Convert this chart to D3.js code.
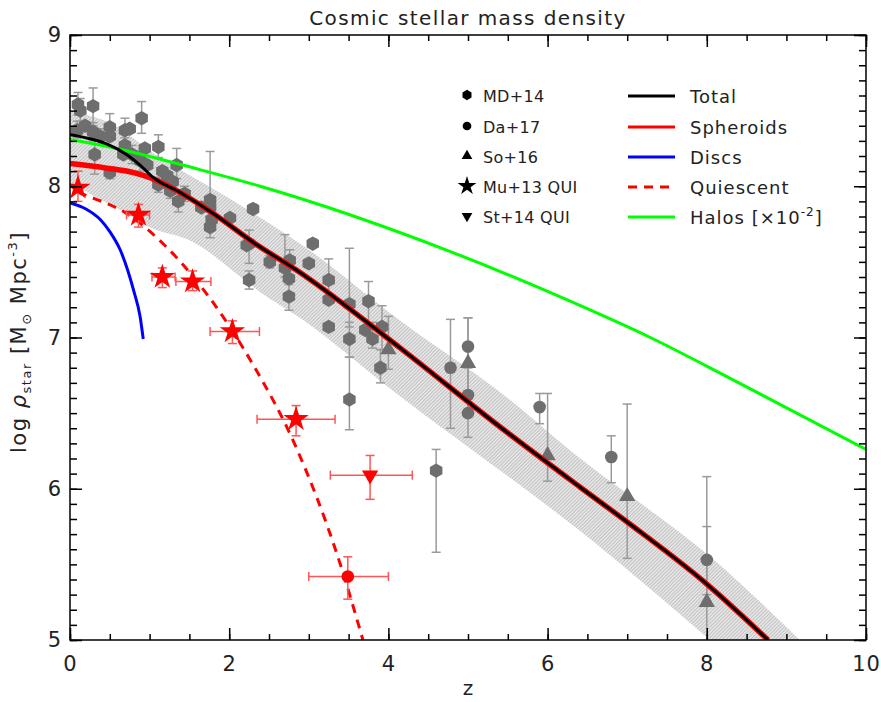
<!DOCTYPE html>
<html>
<head>
<meta charset="utf-8">
<script src="https://cdnjs.cloudflare.com/ajax/libs/d3/7.8.5/d3.min.js"></script>
<style>
body { margin: 0; background: #fff; }
text { font-family: "DejaVu Sans", sans-serif; }
</style>
</head>
<body>
<svg id="chart"></svg>
<script>
// model curves (z, log rho)
var totalZ = [0, 0.2, 0.46, 0.71, 0.88, 1.04, 1.38, 1.8, 2.3, 2.89, 4.15, 5.4, 6.41, 7.0, 8.0, 8.77];
var totalV = [8.34, 8.32, 8.28, 8.21, 8.14, 8.06, 7.96, 7.82, 7.63, 7.43, 6.93, 6.41, 6.01, 5.78, 5.37, 5.0];
var sphZ = [0, 0.46, 0.8, 1.04, 1.38, 1.8, 2.3, 2.89, 4.15, 5.4, 6.41, 7.0, 8.0, 8.77];
var sphV = [8.15, 8.12, 8.09, 8.05, 7.96, 7.82, 7.63, 7.43, 6.93, 6.41, 6.01, 5.78, 5.37, 5.0];
var discZ = [0, 0.2, 0.38, 0.5, 0.63, 0.8, 0.88, 0.92];
var discV = [7.89, 7.85, 7.78, 7.70, 7.58, 7.31, 7.14, 6.99];
var quiZ = [0.1, 0.25, 0.71, 1.17, 1.97, 2.3, 2.81, 3.39, 3.68];
var quiV = [7.96, 7.93, 7.82, 7.62, 7.10, 6.82, 6.31, 5.51, 5.0];
var haloZ = [0, 0.5, 1.63, 2.39, 4.77, 6.24, 7.29, 8.33, 10];
var haloV = [8.31, 8.26, 8.11, 8.0, 7.57, 7.25, 7.0, 6.72, 6.26];
// shaded band
var bandUpZ = [0, 0.5, 1.13, 2.0, 3.0, 4.15, 5.4, 6.41, 8.0, 9.17];
var bandUpV = [8.50, 8.42, 8.19, 7.92, 7.58, 7.11, 6.64, 6.20, 5.57, 5.0];
var bandLoZ = [0, 0.71, 1.04, 1.55, 2.39, 3.0, 4.15, 6.41, 8.04];
var bandLoV = [8.02, 7.82, 7.72, 7.63, 7.30, 7.09, 6.61, 5.72, 5.0];

// observations [z, logrho, low, high]
var md14 = [
  [0.10, 8.54, 8.47, 8.62], [0.13, 8.50, 8.43, 8.58], [0.09, 8.37, 8.32, 8.43], [0.19, 8.40, null, null],
  [0.29, 8.53, 8.40, 8.65], [0.29, 8.36, 8.30, 8.42], [0.31, 8.21, 8.08, 8.33], [0.38, 8.33, 8.28, 8.38],
  [0.50, 8.39, 8.33, 8.48], [0.50, 8.33, null, null], [0.50, 8.09, 8.05, 8.13], [0.69, 8.37, 8.32, 8.45],
  [0.75, 8.38, null, null], [0.69, 8.27, 8.20, 8.35], [0.67, 8.21, null, null], [0.78, 8.21, 8.15, 8.27],
  [0.90, 8.45, 8.35, 8.56], [0.94, 8.25, null, null], [0.88, 8.17, 8.10, 8.23], [0.97, 8.14, null, null],
  [1.11, 8.26, 8.19, 8.34], [1.16, 8.10, null, null], [1.11, 8.01, 7.96, 8.06], [1.22, 8.07, null, null],
  [1.26, 7.97, 7.92, 8.02], [1.34, 8.14, 8.05, 8.25], [1.29, 8.03, null, null], [1.36, 7.90, 7.83, 7.97],
  [1.44, 7.95, 7.90, 8.00], [1.65, 7.86, null, null], [1.76, 7.91, 7.79, 8.23], [1.76, 7.86, null, null],
  [1.78, 7.78, null, null], [1.76, 7.73, 7.66, 7.80], [2.01, 7.79, null, null], [2.30, 7.85, 7.82, 7.88],
  [2.22, 7.61, null, null], [2.25, 7.62, 7.49, 7.71], [2.25, 7.38, 7.32, 7.44], [2.51, 7.50, 7.46, 7.54],
  [2.70, 7.46, 7.40, 7.68], [2.75, 7.39, null, null], [2.76, 7.51, 7.45, 7.58], [2.75, 7.27, 7.18, 7.35],
  [3.00, 7.49, null, null], [3.05, 7.62, 7.60, 7.65], [3.25, 7.38, 7.25, 7.52], [3.25, 7.25, null, null],
  [3.25, 7.07, null, null], [3.51, 7.22, 7.07, 7.59], [3.51, 6.99, 6.87, 7.10], [3.51, 6.59, 6.39, 6.87],
  [3.75, 7.24, 7.07, 7.37], [3.71, 7.05, null, null], [3.80, 6.99, 6.93, 7.10], [3.92, 7.07, 6.92, 7.21],
  [3.90, 6.80, 6.70, 6.92], [4.60, 6.12, 5.58, 6.26]
];
var da17 = [
  [4.78, 6.80, 6.40, 7.12], [5.0, 6.94, 6.80, 7.13], [5.0, 6.62, 6.50, 6.80], [5.0, 6.50, 6.34, 6.62],
  [5.90, 6.54, 6.43, 6.63], [6.80, 6.21, 6.04, 6.35], [8.0, 5.53, 5.30, 5.75]
];
var so16 = [
  [4.0, 6.92, 6.79, 7.14], [5.0, 6.83, 6.62, 7.13], [6.0, 6.22, 6.05, 6.63], [7.0, 5.95, 5.54, 6.56],
  [8.0, 5.25, 4.85, 6.08]
];
// quiescent [z, logrho, zlow, zhigh, low, high]
var mu13 = [
  [0.10, 7.99, null, null, 7.90, 8.10], [0.86, 7.81, 0.71, 1.00, 7.73, 7.88], [1.16, 7.40, 1.03, 1.32, 7.33, 7.46],
  [1.54, 7.37, 1.33, 1.77, 7.31, 7.44], [2.04, 7.04, 1.76, 2.38, 6.96, 7.11], [2.84, 6.46, 2.35, 3.33, 6.35, 6.55]
];
var st14 = [[3.77, 6.09, 3.27, 4.30, 5.93, 6.22]];
var da17q = [[3.49, 5.42, 3.0, 4.0, 5.27, 5.55]];

var xTicks = [0, 2, 4, 6, 8, 10];
var yTicks = [5, 6, 7, 8, 9];
var symLabels = ["MD+14", "Da+17", "So+16", "Mu+13 QUI", "St+14 QUI"];
var lineLabels = ["Total", "Spheroids", "Discs", "Quiescent", "Halos"];

var width = 881, height = 702;
var pL = 70, pR = 866, pT = 35, pB = 640;

var svg = d3.select("#chart").attr("width", width).attr("height", height);

var x = d3.scaleLinear().domain([0, 10]).range([pL, pR]);
var y = d3.scaleLinear().domain([5, 9]).range([pB, pT]);

var symHex = {
  draw: function(ctx, size) {
    var r = Math.sqrt(2 * size / (3 * Math.sqrt(3)));
    for (var i = 0; i < 6; i++) {
      var a = -Math.PI / 2 + i * Math.PI / 3;
      if (i == 0) ctx.moveTo(r * Math.cos(a), r * Math.sin(a));
      else ctx.lineTo(r * Math.cos(a), r * Math.sin(a));
    }
    ctx.closePath();
  }
};

var defs = svg.append("defs");
defs.append("clipPath").attr("id", "clip").append("rect")
  .attr("x", pL).attr("y", pT).attr("width", pR - pL).attr("height", pB - pT);
var pat = defs.append("pattern").attr("id", "hatch").attr("patternUnits", "userSpaceOnUse")
  .attr("width", 2.5).attr("height", 2.5).attr("patternTransform", "rotate(45)");
pat.append("rect").attr("width", 2.5).attr("height", 2.5).attr("fill", "#e4e4e4");
pat.append("line").attr("x1", 0).attr("y1", 0).attr("x2", 0).attr("y2", 2.5)
  .attr("stroke", "#a8a8a8").attr("stroke-width", 1);

var plot = svg.append("g").attr("clip-path", "url(#clip)");

function lineOf(zs, vs, curve) {
  return d3.line().x(function(d) { return x(d[0]); }).y(function(d) { return y(d[1]); })
    .curve(curve || d3.curveMonotoneX)(zs.map(function(z, i) { return [z, vs[i]]; }));
}

// band: upper edge left to right, lower edge right to left
var loRev = d3.line().x(function(d) { return x(d[0]); }).y(function(d) { return y(d[1]); }).curve(d3.curveCatmullRom)(
  bandLoZ.map(function(z, i) { return [z, bandLoV[i]]; }).reverse());
var bandPath = lineOf(bandUpZ, bandUpV, d3.curveCatmullRom) + "L" + x(9.4) + "," + y(4.8) + "L" + x(8.2) + "," + y(4.8) +
  "L" + loRev.slice(1) + "Z";
plot.append("path").attr("d", bandPath).attr("fill", "url(#hatch)").attr("stroke", "none");

// gray error bars and markers
var grayAll = md14.concat(da17, so16);
var cap = 4.5;
grayAll.forEach(function(d) {
  if (d[2] == null) return;
  var px = x(d[0]);
  plot.append("line").attr("x1", px).attr("x2", px).attr("y1", y(d[2])).attr("y2", y(d[3]))
    .attr("stroke", "#9a9a9a").attr("stroke-width", 1.5);
  [d[2], d[3]].forEach(function(v) {
    plot.append("line").attr("x1", px - cap).attr("x2", px + cap).attr("y1", y(v)).attr("y2", y(v))
      .attr("stroke", "#9a9a9a").attr("stroke-width", 1.5);
  });
});

function drawMarks(data, type, size, color, rot) {
  plot.selectAll(null).data(data).enter().append("path")
    .attr("d", d3.symbol().type(type).size(size))
    .attr("transform", function(d) { return "translate(" + x(d[0]) + "," + y(d[1]) + ")" + (rot ? " rotate(180)" : ""); })
    .attr("fill", color);
}
drawMarks(md14, symHex, 135, "#6e6e6e");
drawMarks(da17, d3.symbolCircle, 125, "#6e6e6e");
drawMarks(so16, d3.symbolTriangle, 115, "#6e6e6e");

// model lines
plot.append("path").attr("d", lineOf(haloZ, haloV)).attr("fill", "none").attr("stroke", "#00ff00").attr("stroke-width", 3);
plot.append("path").attr("d", lineOf(discZ, discV)).attr("fill", "none").attr("stroke", "#0000ff").attr("stroke-width", 3);
plot.append("path").attr("d", lineOf(sphZ, sphV)).attr("fill", "none").attr("stroke", "#ff0000").attr("stroke-width", 5.5);
plot.append("path").attr("d", lineOf(totalZ, totalV)).attr("fill", "none").attr("stroke", "#000").attr("stroke-width", 3);
plot.append("path").attr("d", lineOf(quiZ, quiV)).attr("fill", "none").attr("stroke", "#ff0000")
  .attr("stroke-width", 3).attr("stroke-dasharray", "9,7");

// red quiescent points
var redAll = mu13.concat(st14, da17q);
redAll.forEach(function(d) {
  var px = x(d[0]), py = y(d[1]);
  var ec = "#ff5555";
  plot.append("line").attr("x1", px).attr("x2", px).attr("y1", y(d[4])).attr("y2", y(d[5])).attr("stroke", ec).attr("stroke-width", 1.5);
  [d[4], d[5]].forEach(function(v) {
    plot.append("line").attr("x1", px - cap).attr("x2", px + cap).attr("y1", y(v)).attr("y2", y(v)).attr("stroke", ec).attr("stroke-width", 1.5);
  });
  if (d[2] != null) {
    plot.append("line").attr("x1", x(d[2])).attr("x2", x(d[3])).attr("y1", py).attr("y2", py).attr("stroke", ec).attr("stroke-width", 1.5);
    [d[2], d[3]].forEach(function(z) {
      plot.append("line").attr("x1", x(z)).attr("x2", x(z)).attr("y1", py - cap).attr("y2", py + cap).attr("stroke", ec).attr("stroke-width", 1.5);
    });
  }
});
drawMarks(mu13, d3.symbolStar, 200, "#ff0000");
drawMarks(st14, d3.symbolTriangle, 115, "#ff0000", true);
drawMarks(da17q, d3.symbolCircle, 125, "#ff0000");

// axes
function addAxis(axis, tx, ty) {
  var g = svg.append("g").attr("transform", "translate(" + tx + "," + ty + ")").call(axis);
  g.select(".domain").remove();
  g.selectAll(".tick line").attr("stroke", "#000").attr("stroke-width", 1.5);
  g.selectAll("text").attr("font-size", 21).attr("fill", "#222").attr("font-family", "DejaVu Sans")
    .attr("letter-spacing", 1);
  return g;
}
var xMinor = d3.range(0, 10.01, 0.5), yMinor = d3.range(5, 9.001, 0.1);
addAxis(d3.axisBottom(x).tickValues(xTicks).tickSize(-12).tickPadding(16).tickFormat(d3.format("d")), 0, pB);
addAxis(d3.axisBottom(x).tickValues(xMinor).tickSize(-6).tickFormat(""), 0, pB);
addAxis(d3.axisTop(x).tickValues(xTicks).tickSize(-12).tickFormat(""), 0, pT);
addAxis(d3.axisTop(x).tickValues(xMinor).tickSize(-6).tickFormat(""), 0, pT);
addAxis(d3.axisLeft(y).tickValues(yTicks).tickSize(-12).tickPadding(8).tickFormat(d3.format("d")), pL, 0);
addAxis(d3.axisLeft(y).tickValues(yMinor).tickSize(-7).tickFormat(""), pL, 0);
addAxis(d3.axisRight(y).tickValues(yTicks).tickSize(-12).tickFormat(""), pR, 0);
addAxis(d3.axisRight(y).tickValues(yMinor).tickSize(-7).tickFormat(""), pR, 0);
svg.append("rect").attr("x", pL).attr("y", pT).attr("width", pR - pL).attr("height", pB - pT)
  .attr("fill", "none").attr("stroke", "#000").attr("stroke-width", 1.5);

// titles
svg.append("text").attr("x", 468).attr("y", 25).attr("text-anchor", "middle").attr("font-size", 20).attr("fill", "#222")
  .attr("letter-spacing", 1.4).text("Cosmic stellar mass density");
svg.append("text").attr("x", 468).attr("y", 695).attr("text-anchor", "middle").attr("font-size", 20).attr("fill", "#222").text("z");
var yl = svg.append("text").attr("transform", "translate(26,342) rotate(-90)").attr("text-anchor", "middle")
  .attr("font-size", 21).attr("letter-spacing", 1.5).attr("fill", "#222");
yl.append("tspan").text("log ");
yl.append("tspan").attr("font-style", "italic").text("ρ");
yl.append("tspan").attr("font-size", 13).attr("dy", 5).text("star");
yl.append("tspan").attr("dy", -5).text(" [M");
yl.append("tspan").attr("font-size", 13).attr("dy", 5).text("⊙");
yl.append("tspan").attr("dy", -5).text(" Mpc");
yl.append("tspan").attr("font-size", 13).attr("dy", -9).text("-3");
yl.append("tspan").attr("dy", 9).text("]");

// legend
var legSyms = [symHex, d3.symbolCircle, d3.symbolTriangle, d3.symbolStar, d3.symbolTriangle];
var legSizes = [70, 60, 50, 110, 50];
var legY = [96, 127, 157, 187, 217];
symLabels.forEach(function(s, i) {
  svg.append("path").attr("d", d3.symbol().type(legSyms[i]).size(legSizes[i]))
    .attr("transform", "translate(467," + (legY[i] - 1) + ")" + (i == 4 ? " rotate(180)" : "")).attr("fill", "#000");
  svg.append("text").attr("x", 483).attr("y", legY[i] + 6).attr("font-size", 16).attr("letter-spacing", 0.3)
    .attr("fill", "#222").text(s);
});
var legColors = ["#000", "#ff0000", "#0000ff", "#ff0000", "#00ff00"];
lineLabels.forEach(function(s, i) {
  svg.append("line").attr("x1", 628).attr("x2", 675).attr("y1", legY[i]).attr("y2", legY[i])
    .attr("stroke", legColors[i]).attr("stroke-width", 3).attr("stroke-dasharray", i == 3 ? "9,7" : null);
  var t = svg.append("text").attr("x", 690).attr("y", legY[i] + 7).attr("font-size", 18).attr("letter-spacing", 1)
    .attr("fill", "#222").text(s);
  if (i == 4) {
    t.append("tspan").text(" [×10");
    t.append("tspan").attr("font-size", 12).attr("dy", -8).text("-2");
    t.append("tspan").attr("dy", 8).text("]");
  }
});
</script>
</body>
</html>
